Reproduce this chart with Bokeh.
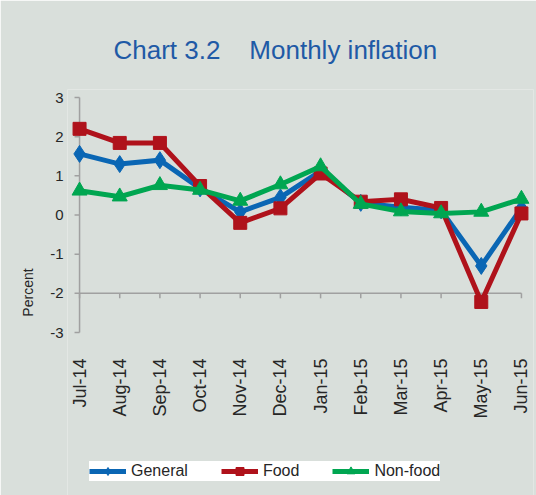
import math
from bokeh.plotting import figure
from bokeh.models import Range1d, FixedTicker, Legend, LegendItem
from bokeh.core.properties import value
from bokeh.embed import file_html
from bokeh.resources import INLINE

months = ["Jul-14", "Aug-14", "Sep-14", "Oct-14", "Nov-14", "Dec-14",
          "Jan-15", "Feb-15", "Mar-15", "Apr-15", "May-15", "Jun-15"]
general = [1.56, 1.30, 1.40, 0.68, 0.08, 0.45, 1.12, 0.31, 0.20, 0.12, -1.30, 0.18]
food = [2.20, 1.84, 1.84, 0.74, -0.20, 0.17, 1.06, 0.34, 0.40, 0.18, -2.22, 0.04]
nonfood = [0.62, 0.47, 0.76, 0.64, 0.36, 0.78, 1.24, 0.28, 0.09, 0.04, 0.08, 0.41]
y_ticks = [-3, -2, -1, 0, 1, 2, 3]
x_axis_at = -2

BG = "#D9DFDB"
AX = "#A0A0A0"
TXT = "#262626"
BLUE = "#0A66B4"
RED = "#AF121B"
GREEN = "#00A651"
TITLE = "#1F5AA6"
FONT = "Liberation Sans"

xs = list(range(len(months)))

# the frame covers the plot area plus the category-label and legend area
FW = 466
BL, BR, BT, BB = 67, 3, 89, 0
px_per_y = 39.17
FH = 495 - BT - BB
x_lo, x_hi = -0.3, 11.3
y_hi = y_ticks[-1] + 8 / px_per_y
y_lo = y_hi - FH / px_per_y
px_per_x = FW / (x_hi - x_lo)
ytick_len = 5 / px_per_y
xtick_len = 5 / px_per_x
label_top = y_ticks[0] - 26 / px_per_y

p = figure(frame_width=FW, frame_height=FH, output_backend="svg", toolbar_location=None,
           x_range=Range1d(x_lo, x_hi), y_range=Range1d(y_lo, y_hi),
           min_border_left=BL, min_border_right=BR, min_border_top=BT,
           min_border_bottom=BB,
           background_fill_color=BG, border_fill_color=BG, outline_line_color=None)
p.grid.visible = False
p.xaxis.visible = False

p.title.text = "Chart 3.2\u00a0\u00a0\u00a0 Monthly inflation"
p.title.text_font = FONT
p.title.text_font_size = "26px"
p.title.text_font_style = "normal"
p.title.text_color = TITLE
p.title.align = "left"
p.title.offset = 46
p.title.standoff = 50

# y tick labels (axis line and ticks drawn as glyphs below)
ya = p.yaxis[0]
ya.ticker = FixedTicker(ticks=y_ticks)
ya.major_label_overrides = {t: str(t) for t in y_ticks}
ya.axis_line_color = None
ya.major_tick_line_color = None
ya.minor_tick_line_color = None
ya.major_tick_out = 0
ya.major_tick_in = 0
ya.major_label_text_font = FONT
ya.major_label_text_font_size = "15px"
ya.major_label_text_color = TXT
ya.major_label_standoff = 4
ya.axis_label = "Percent"
ya.axis_label_text_font = FONT
ya.axis_label_text_font_size = "14px"
ya.axis_label_text_font_style = "normal"
ya.axis_label_text_color = TXT
ya.axis_label_standoff = 11

# value axis at first category
p.segment(x0=[xs[0]], y0=[y_ticks[0]], x1=[xs[0]], y1=[y_ticks[-1]],
          line_color=AX, line_width=1.5)
p.segment(x0=[xs[0]] * len(y_ticks), y0=y_ticks,
          x1=[xs[0] - xtick_len] * len(y_ticks), y1=y_ticks,
          line_color=AX, line_width=1.5)
# category axis line crossing at y = -2, with tick marks
p.segment(x0=[xs[0]], y0=[x_axis_at], x1=[xs[-1]], y1=[x_axis_at],
          line_color=AX, line_width=1.5)
p.segment(x0=xs, y0=[x_axis_at] * len(xs), x1=xs,
          y1=[x_axis_at - ytick_len] * len(xs), line_color=AX, line_width=1.5)

# category labels, low position, rotated
p.text(x=xs, y=[label_top] * len(xs), text=months, angle=math.pi / 2,
       text_align="right", text_baseline="middle",
       text_font=value(FONT), text_font_size="18px", text_color=TXT)

series = [("General", general, BLUE, "diamond", 17),
          ("Food", food, RED, "square", 13),
          ("Non-food", nonfood, GREEN, "triangle", 15)]
items = []
for name, vals, col, mk, sz in series:
    ln = p.line(xs, vals, line_color=col, line_width=5, line_join="miter")
    sc = p.scatter(xs, vals, marker=mk, size=sz, fill_color=col, line_color=col)
    items.append(LegendItem(label=name, renderers=[ln, sc]))

legend = Legend(items=items, orientation="horizontal", location=(22, 14),
                background_fill_color="white", background_fill_alpha=1,
                border_line_color=None,
                label_text_font=FONT, label_text_font_size="16px",
                label_text_color=TXT,
                glyph_width=37, glyph_height=20, label_standoff=5,
                spacing=33, padding=6, margin=0)
p.add_layout(legend)

open("out.html", "w").write(file_html(p, INLINE))
